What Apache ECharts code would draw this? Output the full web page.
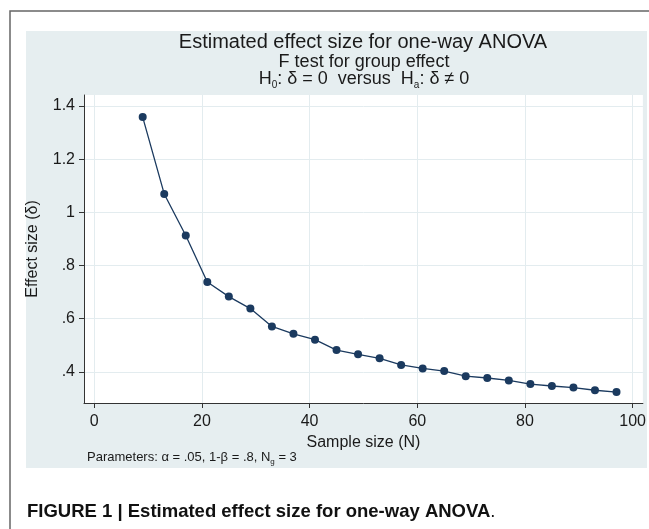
<!DOCTYPE html>
<html>
<head>
<meta charset="utf-8">
<script src="https://cdn.jsdelivr.net/npm/echarts@6/dist/echarts.min.js"></script>
<style>
html, body { margin: 0; padding: 0; background: #fff; }
#main { width: 649px; height: 529px; }
</style>
</head>
<body>
<div id="main"></div>
<script>
// data
var sampleSize = [9, 13, 17, 21, 25, 29, 33, 37, 41, 45, 49, 53, 57, 61, 65, 69, 73, 77, 81, 85, 89, 93, 97];
var effectSize = [1.358, 1.069, 0.913, 0.738, 0.683, 0.638, 0.571, 0.543, 0.521, 0.482, 0.466, 0.451,
	0.426, 0.413, 0.403, 0.384, 0.377, 0.368, 0.354, 0.347, 0.341, 0.331, 0.324];
var xTicks = [0, 20, 40, 60, 80, 100];
var yTicks = [0.4, 0.6, 0.8, 1, 1.2, 1.4];

var chart = echarts.init(document.getElementById('main'));
var font = "'Liberation Sans', Arial, Helvetica, sans-serif";
var navy = '#1b3a5f';
var txt = '#1a1a1a';

var points = [];
for (var i = 0; i < sampleSize.length; i++) {
	points.push([sampleSize[i], effectSize[i]]);
}

var option = {
	backgroundColor: '#fff',
	textStyle: { fontFamily: font },
	animation: false,
	title: [
		{
			text: 'Estimated effect size for one-way ANOVA',
			left: 358, top: 27, textAlign: 'center',
			textStyle: { fontSize: 20, fontWeight: 'normal', color: txt, fontFamily: font }
		},
		{
			text: 'F test for group effect',
			left: 359, top: 48, textAlign: 'center',
			textStyle: { fontSize: 18, fontWeight: 'normal', color: txt, fontFamily: font }
		},
		{
			text: '{n|H}{s|0}{n|: δ = 0  versus  H}{s|a}{n|: δ ≠ 0}',
			left: 359, top: 63, textAlign: 'center',
			textStyle: {
				fontFamily: font, fontWeight: 'normal',
				rich: {
					n: { fontSize: 18, color: txt, fontWeight: 'normal', lineHeight: 22, verticalAlign: 'middle', fontFamily: font },
					s: { fontSize: 10, color: txt, fontWeight: 'normal', lineHeight: 10, verticalAlign: 'bottom', fontFamily: font }
				}
			}
		}
	],
	graphic: [
		{ type: 'rect', z: -10, shape: { x: 26, y: 31, width: 621, height: 437 }, style: { fill: '#e6eef0' } },
		{ type: 'polyline', z: -10, shape: { points: [[10, 529], [10, 11], [649, 11]] }, style: { stroke: '#666', lineWidth: 1.5, fill: null } },
		{
			type: 'text', left: 87, top: 451,
			style: {
				text: '{n|Parameters: α = .05, 1-β = .8, N}{s|g}{n| = 3}',
				rich: {
					n: { fontSize: 13, fill: txt, lineHeight: 16, verticalAlign: 'middle', fontFamily: font },
					s: { fontSize: 8, fill: txt, lineHeight: 8, verticalAlign: 'bottom', fontFamily: font }
				}
			}
		},
		{
			type: 'text', left: 27, top: 502,
			style: {
				text: '{b|FIGURE 1 | Estimated effect size for one-way ANOVA}{n|.}',
				rich: {
					b: { fontSize: 18.5, fontWeight: 'bold', fill: '#111', fontFamily: font },
					n: { fontSize: 18.5, fontWeight: 'normal', fill: '#111', fontFamily: font }
				}
			}
		}
	],
	grid: {
		left: 84, right: 5, top: 95, bottom: 126,
		show: true, backgroundColor: '#fff', borderWidth: 0
	},
	xAxis: {
		type: 'value',
		min: -1.9, max: 101.9,
		name: 'Sample size (N)',
		nameLocation: 'middle', nameGap: 30,
		nameTextStyle: { fontSize: 16, color: txt, fontFamily: font },
		axisLine: { show: true, onZero: false, lineStyle: { color: '#333', width: 1 } },
		axisTick: { show: true, length: 5, lineStyle: { color: '#333' }, customValues: xTicks },
		axisLabel: { fontSize: 16, color: txt, margin: 11, customValues: xTicks },
		splitLine: { show: true, lineStyle: { color: '#e3ecef', width: 1 } }
	},
	yAxis: {
		type: 'value',
		min: 0.283, max: 1.441,
		name: 'Effect size (δ)',
		nameLocation: 'middle', nameGap: 43,
		nameTextStyle: { fontSize: 16, color: txt, fontFamily: font },
		axisLine: { show: true, onZero: false, lineStyle: { color: '#333', width: 1 } },
		axisTick: { show: true, length: 5, lineStyle: { color: '#333' }, customValues: yTicks },
		axisLabel: {
			fontSize: 16, color: txt, margin: 9, customValues: yTicks,
			formatter: function (v) {
				return String(Math.round(v * 10) / 10).replace(/^0\./, '.');
			}
		},
		splitLine: { show: true, lineStyle: { color: '#e3ecef', width: 1 } }
	},
	series: [
		{
			type: 'line',
			data: points,
			symbol: 'circle',
			symbolSize: 8,
			lineStyle: { color: navy, width: 1.3 },
			itemStyle: { color: navy }
		}
	]
};

chart.setOption(option);
</script>
</body>
</html>
